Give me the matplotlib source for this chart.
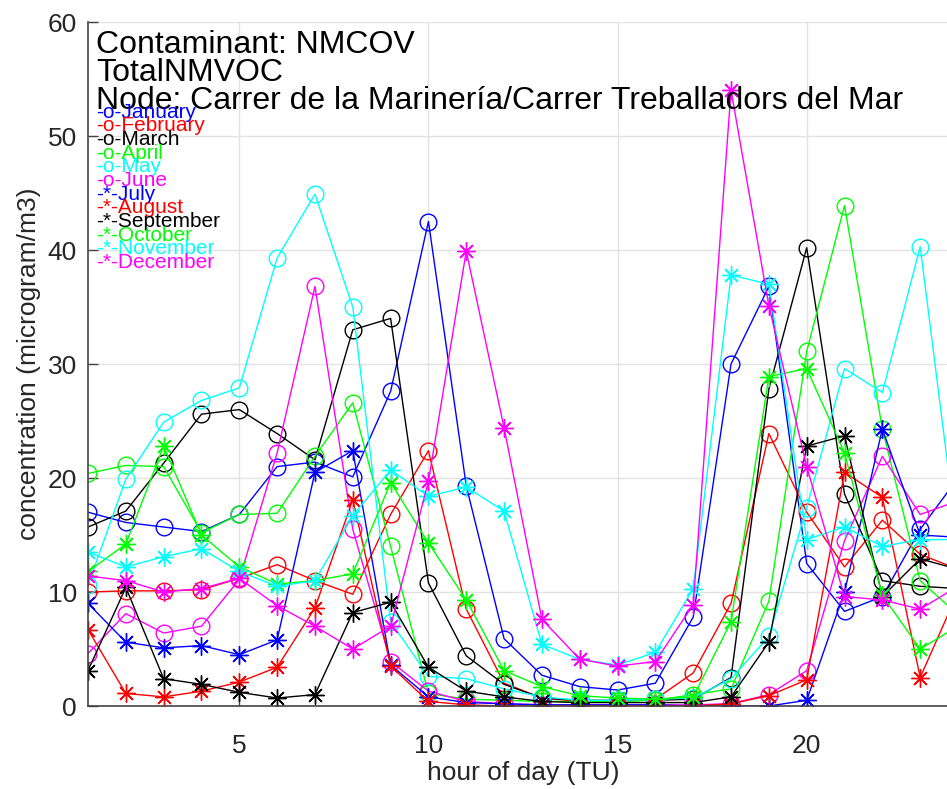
import matplotlib
matplotlib.use('Agg')
import matplotlib.pyplot as plt

plt.rcParams['font.family'] = ['Liberation Sans', 'DejaVu Sans']

hours = list(range(1, 25))

months = ['January', 'February', 'March', 'April', 'May', 'June',
          'July', 'August', 'September', 'October', 'November', 'December']

jan = [17.0, 16.1, 15.7, 15.3, 16.8, 21.0, 21.4, 20.1, 27.6, 42.5, 19.3, 5.9,
       2.7, 1.7, 1.4, 2.0, 7.8, 30.0, 36.8, 12.5, 8.3, 9.6, 15.5, 20.0]
feb = [10.0, 10.1, 10.1, 10.2, 11.2, 12.4, 11.0, 9.8, 16.8, 22.4, 8.5, 2.0,
       0.7, 0.4, 0.4, 0.6, 2.9, 9.0, 23.9, 17.0, 12.2, 16.3, 13.3, 12.0]
mar = [15.7, 17.1, 21.3, 25.6, 26.0, 23.9, 21.6, 33.0, 34.0, 10.8, 4.4, 1.9,
       0.7, 0.5, 0.5, 0.5, 0.6, 2.5, 27.8, 40.2, 18.6, 11.0, 10.5, 10.3]
apr = [20.4, 21.1, 21.0, 15.2, 16.8, 16.9, 21.9, 26.6, 14.0, 1.1, 0.6, 0.5,
       0.4, 0.4, 0.4, 0.5, 1.0, 1.5, 9.2, 31.1, 43.9, 24.3, 11.0, 8.0]
may = [10.6, 19.9, 24.9, 26.8, 27.9, 39.3, 44.9, 35.0, 7.4, 2.6, 2.4, 1.5,
       0.8, 0.5, 0.5, 0.6, 0.7, 2.4, 6.1, 17.4, 29.6, 27.5, 40.3, 14.0]
jun = [4.6, 8.1, 6.4, 7.0, 11.1, 22.2, 36.8, 15.5, 3.9, 1.3, 0.4, 0.2,
       0.1, 0.1, 0.1, 0.1, 0.1, 0.2, 1.0, 3.1, 14.5, 21.9, 16.8, 18.0]
jul = [9.0, 5.6, 5.1, 5.3, 4.5, 5.8, 20.5, 22.4, 3.6, 0.8, 0.3, 0.2,
       0.1, 0.1, 0.1, 0.1, 0.0, 0.0, 0.0, 0.5, 10.0, 24.3, 15.0, 14.8]
aug = [6.7, 1.1, 0.8, 1.3, 2.1, 3.4, 8.6, 18.1, 3.5, 0.4, 0.1, 0.0,
       0.0, 0.0, 0.0, 0.0, 0.0, 0.2, 0.9, 2.3, 20.5, 18.3, 2.5, 10.0]
sep = [3.1, 10.4, 2.4, 1.9, 1.2, 0.7, 1.0, 8.2, 9.1, 3.4, 1.3, 0.8,
       0.4, 0.3, 0.3, 0.3, 0.3, 0.8, 5.6, 22.8, 23.7, 9.6, 12.9, 12.0]
octo = [11.8, 14.2, 22.8, 15.0, 12.2, 10.7, 11.0, 11.6, 19.6, 14.3, 9.3, 3.1,
        1.7, 0.9, 0.7, 0.6, 0.8, 7.4, 28.9, 29.6, 22.2, 9.7, 5.0, 7.0]
nov = [13.5, 12.2, 13.1, 13.8, 11.8, 10.5, 11.0, 16.7, 20.7, 18.4, 19.2, 17.1,
       5.4, 4.1, 3.6, 4.7, 10.3, 37.8, 37.0, 14.6, 15.7, 14.0, 14.6, 14.6]
dec = [11.4, 11.0, 10.0, 10.3, 11.2, 8.8, 7.0, 5.0, 7.0, 19.7, 39.9, 24.4,
       7.6, 4.1, 3.5, 3.9, 8.9, 54.0, 35.1, 21.0, 9.6, 9.3, 8.5, 10.5]

series = [jan, feb, mar, apr, may, jun, jul, aug, sep, octo, nov, dec]
colours = ['#0000ff', '#ff0000', '#000000', '#00ff00', '#00ffff', '#ff00ff'] * 2
markers = ['o'] * 6 + ['*'] * 6

title_lines = ['Contaminant: NMCOV', 'TotalNMVOC',
               'Node: Carrer de la Marinería/Carrer Treballadors del Mar']

fig = plt.figure(figsize=(9.47, 7.89), dpi=100)
# axes run past the right edge of the figure, as in the cropped original
ax = fig.add_axes([88 / 947, 83 / 789, 870 / 947, 684 / 789])

asterisk = (8, 2, 0)
for values, colour, mk in zip(series, colours, markers):
    if mk == 'o':
        ax.plot(hours, values, color=colour, lw=1.0, marker='o', ms=12,
                mfc='none', mec=colour, mew=1.0)
    else:
        ax.plot(hours, values, color=colour, lw=1.0, marker=asterisk, ms=13,
                mec=colour, mew=1.0)

ax.set_xlim(1, 24)
ax.set_ylim(0, 60)
ax.set_xticks([5, 10, 15, 20])
ax.set_yticks(range(0, 61, 10))
ax.grid(True, color='#e3e3e3', lw=1.0)
ax.set_axisbelow(True)
for side in ('top', 'right'):
    ax.spines[side].set_visible(False)
for side in ('left', 'bottom'):
    ax.spines[side].set_color('#444444')
    ax.spines[side].set_linewidth(1.2)
ax.tick_params(direction='in', length=7, width=1.0, color='#444444',
               labelcolor='#262626', labelsize=19)
ax.tick_params(axis='x', pad=20)
ax.tick_params(axis='y', pad=8)

ax.set_xlabel('hour of day (TU)', fontsize=19, color='#262626', labelpad=2)
ax.set_ylabel('concentration (microgram/m3)', fontsize=19, color='#262626',
              labelpad=5)

for i, line in enumerate(title_lines):
    ax.text(0.0092, 0.966 - i * 0.041, line, transform=ax.transAxes,
            fontsize=23, va='center', ha='left', color='black')

for i, (name, colour, mk) in enumerate(zip(months, colours, markers)):
    ax.text(0.0092, 0.868 - i * 0.01994, f'-{mk}-{name}', transform=ax.transAxes,
            fontsize=15, va='center', ha='left', color=colour)

fig.savefig('out.png', dpi=100)
